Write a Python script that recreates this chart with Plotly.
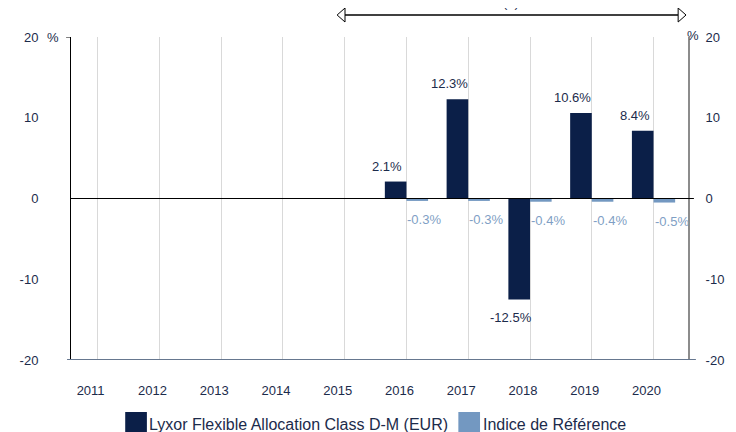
import plotly.graph_objects as go

years = [2011, 2012, 2013, 2014, 2015, 2016, 2017, 2018, 2019, 2020]
year_labels = [str(y) for y in years]
fund_name = "Lyxor Flexible Allocation Class D-M (EUR)"
index_name = "Indice de Référence"
fund = [None, None, None, None, None, 2.1, 12.3, -12.5, 10.6, 8.4]
index = [None, None, None, None, None, -0.3, -0.3, -0.4, -0.4, -0.5]
y_ticks = [-20, -10, 0, 10, 20]

DARK = "#0b1f48"
LIGHT = "#7398c1"
TXT = "#1c2b4b"
LTXT = "#7f9fc5"
FONT = "Liberation Sans, Arial, sans-serif"

# plot area in page pixels (page has an 8px body margin)
PL, PR, PT, PB = 66, 692, 37, 360
PW, PH = PR - PL, PB - PT


def px(x):
    return (x - PL) / PW


def py(y):
    return (PB - y) / PH


fig = go.Figure()
fig.add_trace(go.Bar(x=years, y=fund, name=fund_name, marker_color=DARK,
                     marker_line_width=0, showlegend=False))
fig.add_trace(go.Bar(x=years, y=index, name=index_name, marker_color=LIGHT,
                     marker_line_width=0, showlegend=False))
# invisible trace to carry the right axis
fig.add_trace(go.Scatter(x=years, y=[None] * len(years), yaxis="y2",
                         showlegend=False, hoverinfo="skip"))

annotations = []
for yr, v in zip(years, fund):
    if v is None:
        continue
    annotations.append(dict(x=yr, y=v, xref="x", yref="y", text=f"{v:.1f}%",
                            showarrow=False, font=dict(size=13, color=TXT),
                            xanchor="center", yanchor="bottom" if v > 0 else "top",
                            xshift=-19, yshift=6 if v > 0 else -9))
for yr, v in zip(years, index):
    if v is None:
        continue
    annotations.append(dict(x=yr, y=v, xref="x", yref="y", text=f"{v:.1f}%",
                            showarrow=False, font=dict(size=13, color=LTXT),
                            xanchor="center", yanchor="bottom" if v > 0 else "top",
                            xshift=18, yshift=6 if v > 0 else -9))

# % marks
annotations.append(dict(x=px(47.5), y=20, xref="paper", yref="y", text="%", showarrow=False,
                        font=dict(size=13, color=TXT), xanchor="center", yanchor="middle"))
annotations.append(dict(x=px(697), y=20, xref="paper", yref="y", text="%", showarrow=False,
                        font=dict(size=13, color=TXT), xanchor="center", yanchor="middle",
                        yshift=2))
# (1) at the top (mostly cut off, as in the original)
annotations.append(dict(x=px(512), y=py(12), xref="paper", yref="paper",
                        text="(1)", showarrow=False, font=dict(size=13, color=TXT),
                        xanchor="center", yanchor="bottom"))

# manual legend
annotations.append(dict(x=px(143), y=py(424), xref="paper", yref="paper",
                        text=fund_name, showarrow=False, font=dict(size=16, color=TXT),
                        xanchor="left", yanchor="middle"))
annotations.append(dict(x=px(482), y=py(424), xref="paper", yref="paper",
                        text=index_name, showarrow=False, font=dict(size=16, color=TXT),
                        xanchor="left", yanchor="middle"))

shapes = [
    dict(type="rect", xref="paper", yref="paper", x0=px(121), x1=px(143), y0=py(434), y1=py(412),
         fillcolor=DARK, line=dict(width=0)),
    dict(type="rect", xref="paper", yref="paper", x0=px(459), x1=px(481), y0=py(434), y1=py(412),
         fillcolor=LIGHT, line=dict(width=0)),
    # zero line
    dict(type="line", xref="paper", yref="y", x0=0, x1=px(698), y0=0, y1=0,
         line=dict(color="#000000", width=1)),
    # bottom line
    dict(type="line", xref="paper", yref="y", x0=px(62), x1=px(700),
         y0=-20, y1=-20, line=dict(color="#66778f", width=2)),
    # small top tick on left axis
    dict(type="line", xref="paper", yref="y", x0=px(61), x1=0, y0=20, y1=20,
         line=dict(color="#000000", width=1)),
]

# top double arrow with open heads
ay = py(15)
axl, axr = px(336), px(690)
hw, hh = 8 / PW, 7 / PH
shapes.append(dict(type="line", xref="paper", yref="paper", x0=axl + hw, x1=axr - hw,
                   y0=ay, y1=ay, line=dict(color="#000000", width=1.5)))
shapes.append(dict(type="path", xref="paper", yref="paper",
                   path=f"M {axl} {ay} L {axl + hw} {ay + hh} L {axl + hw} {ay - hh} Z",
                   fillcolor="white", line=dict(color="#000000", width=1)))
shapes.append(dict(type="path", xref="paper", yref="paper",
                   path=f"M {axr} {ay} L {axr - hw} {ay + hh} L {axr - hw} {ay - hh} Z",
                   fillcolor="white", line=dict(color="#000000", width=1)))

# figure starts at page (8, 8) because of the default body margin
W, H = 728, 424
fig.update_layout(
    width=W, height=H,
    margin=dict(l=PL - 8, r=W - (PR - 8), t=PT - 8, b=H - (PB - 8)),
    paper_bgcolor="white", plot_bgcolor="white",
    font=dict(family=FONT, size=13, color=TXT),
    barmode="group", bargap=0.3, bargroupgap=0,
    showlegend=False,
    xaxis=dict(range=[2010.569, 2020.558], tickmode="array", tickvals=years,
               ticktext=year_labels, showgrid=True, gridcolor="#d9d9d9", gridwidth=1,
               zeroline=False, showline=False, ticks="", ticklabelshift=-7,
               ticklabelstandoff=21, tickfont=dict(size=13, color=TXT)),
    yaxis=dict(range=[-20, 20], tickmode="array", tickvals=y_ticks,
               ticktext=[str(t) for t in y_ticks], showgrid=False, zeroline=False,
               showline=True, linecolor="#000000", linewidth=1, ticks="",
               ticklabelstandoff=29, tickfont=dict(size=13, color=TXT)),
    yaxis2=dict(range=[-20, 20], overlaying="y", side="right", tickmode="array",
                tickvals=y_ticks, ticktext=[str(t) for t in y_ticks], showgrid=False,
                zeroline=False, showline=True, linecolor="#8c8c8c", linewidth=2,
                ticks="", ticklabelstandoff=13, tickfont=dict(size=13, color=TXT)),
    annotations=annotations,
    shapes=shapes,
)

fig.write_html("out.html")
